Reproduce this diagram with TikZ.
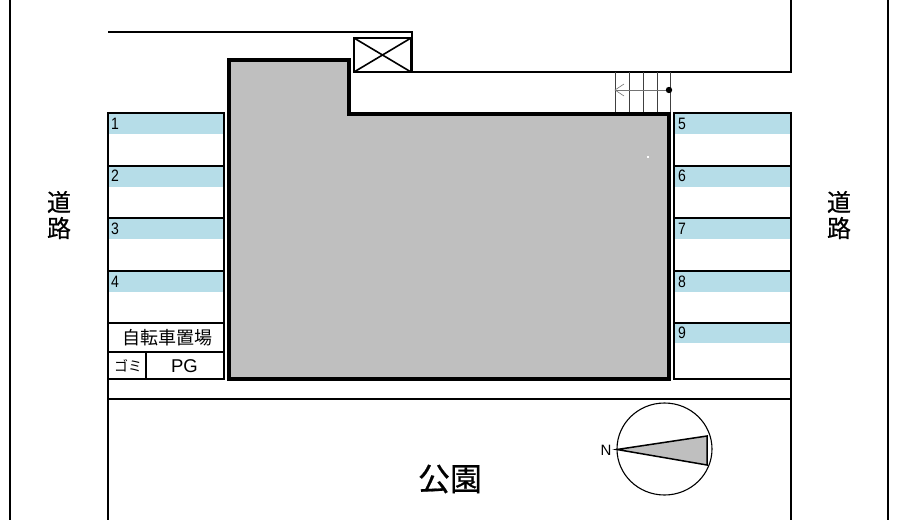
\documentclass[tikz,border=0pt]{standalone}
\usepackage{fontspec}
\setmainfont{Liberation Sans}
\newfontfamily\cjk{Noto Sans CJK JP}
\newfontfamily\cjkb[FakeBold=0.6]{Noto Sans CJK JP}
\newfontfamily\numf[FakeStretch=0.85]{Liberation Sans}
\tikzset{
  x=1pt,y=-1pt,
  wall/.style={line width=2pt,black},
  thin wall/.style={line width=1.6pt,black},
  stairline/.style={line width=0.9pt,black!75},
  bay/.style={fill=bayblue,draw=none},
  num/.style={font=\numf\fontsize{16.5}{16.5}\selectfont,inner sep=0pt},
  road/.style={font=\cjkb\fontsize{24}{24}\selectfont,inner sep=0pt},
  lab/.style={font=\cjk\fontsize{17}{17}\selectfont,inner sep=0pt},
}
\definecolor{bayblue}{RGB}{182,221,232}
\definecolor{bldg}{RGB}{191,191,191}
\begin{document}
\begin{tikzpicture}
\useasboundingbox (0,0) rectangle (899,527);
% outer lines
\draw[wall] (9.5,0) -- (9.5,520);
\draw[wall] (888,0) -- (888,520);
\draw[wall] (108,32) -- (412,32) -- (412,72);
\draw[wall] (791,0) -- (791,72) -- (412,72);
\draw[wall] (108,113) -- (108,520);
\draw[wall] (791,113) -- (791,520);
\draw[wall] (108,399) -- (791,399);
% blue bands
\foreach \y in {114,167,219,272}{
  \fill[bay] (109,\y) rectangle (224,\y+20);
  \fill[bay] (675,\y) rectangle (790,\y+20);
}
\fill[bay] (675,324) rectangle (790,343);
% parking left
\draw[thin wall] (108,113) rectangle (224,379);
\foreach \y in {166,218,271,323,352}{\draw[thin wall] (108,\y) -- (224,\y);}
\draw[thin wall] (146,352) -- (146,379);
% parking right
\draw[thin wall] (674,113) rectangle (791,379);
\foreach \y in {166,218,271,323}{\draw[thin wall] (674,\y) -- (791,\y);}
% numbers
\node[num] (n1) at (115,124) {1};
\node[num] (n2) at (115,176) {2};
\node[num] (n3) at (115,229) {3};
\node[num] (n4) at (115,282) {4};
\node[num] (n5) at (682,124) {5};
\node[num] (n6) at (682,176) {6};
\node[num] (n7) at (682,229) {7};
\node[num] (n8) at (682,282) {8};
\node[num] (n9) at (682,333) {9};
% stairs
\foreach \x in {615,629,643,657,670}{\draw[stairline] (\x,72) -- (\x,113);}
\draw[line width=0.6pt,black!55] (624,84) -- (615,90) -- (624,96);
\draw[line width=0.6pt,black!55] (615,90) -- (669,90);
\fill (669,90) circle (3.2);
% building
\draw[line width=3.4pt,fill=bldg,miter limit=10] (229,60) -- (349,60) -- (349,114) -- (669,114) -- (669,379) -- (229,379) -- cycle;
\fill[white] (647,155.5) rectangle (649,157.5);
% elevator
\draw[line width=1.6pt,fill=white] (354,38) rectangle (411,72);
\draw[line width=1.6pt] (354,38) -- (411,72) (354,72) -- (411,38);
% labels
\node[road] (d1) at (59,202) {道};
\node[road] (r1) at (59,228) {路};
\node[road] (d2) at (839,202) {道};
\node[road] (r2) at (839,228) {路};
\node[lab,font=\cjk\fontsize{18}{18}\selectfont] (bike) at (167.5,338) {自転車置場};
\node[lab,font=\cjk\fontsize{14}{14}\selectfont] (gomi) at (128,366) {ゴミ};
\node[lab,font=\fontsize{18.5}{18.5}\selectfont] (pg) at (184.5,366.5) {PG};
\node[lab,font=\cjkb\fontsize{32}{32}\selectfont] (park) at (450,479) {公園};
% compass
\draw[line width=1.1pt] (664.5,449) ellipse (47.5 and 46);
\draw[line width=1.5pt,fill=bldg] (617,449.5) -- (707,436) -- (707,465) -- cycle;
\node[inner sep=0pt,font=\fontsize{15}{15}\selectfont] (north) at (606,450.5) {N};
\end{tikzpicture}
\end{document}
